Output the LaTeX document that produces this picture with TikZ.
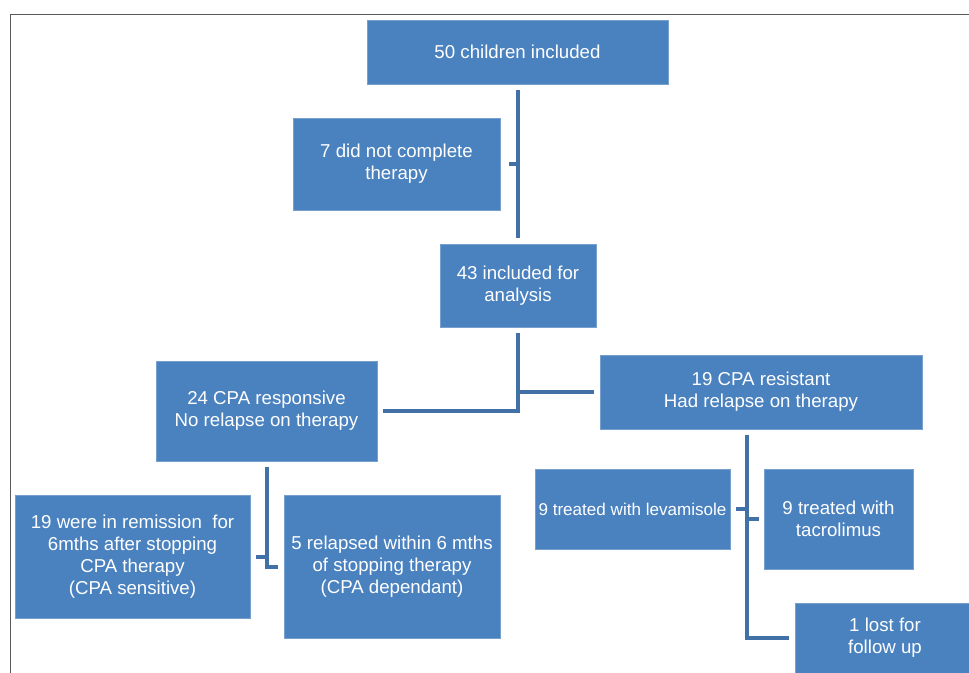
\documentclass[tikz,border=0pt]{standalone}
\usepackage{fontspec}
\setmainfont{Liberation Sans}
\usetikzlibrary{positioning}
\definecolor{boxblue}{RGB}{74,129,191}
\definecolor{lineblue}{RGB}{66,113,168}
\definecolor{framegray}{RGB}{90,90,90}

\begin{document}
\begin{tikzpicture}[x=0.75pt,y=-0.75pt,
  flowbox/.style={fill=boxblue, draw=boxblue!75!white, line width=0.5pt,
    text=white, align=center, inner sep=0pt,
    font=\fontsize{14}{16.5}\selectfont},
  link/.style={draw=lineblue, line width=3pt}]
\useasboundingbox (0,0) rectangle (969,673);
% frame
\draw[framegray, line width=0.75pt] (10,673) -- (10,15) -- (969,15);

\node[flowbox, minimum width=225.75pt, minimum height=48pt] (top) at (517.5,52) {50 children included};
\node[flowbox, minimum width=155.25pt, minimum height=69pt] (skip) at (396.5,164) {7 did not complete\\therapy};
\node[flowbox, minimum width=117pt, minimum height=62.25pt] (incl) at (518,285.5) {43 included for\\analysis};
\node[flowbox, minimum width=165.75pt, minimum height=75pt] (resp) at (266.5,411) {24 CPA responsive\\No relapse on therapy};
\node[flowbox, minimum width=241.5pt, minimum height=55.5pt] (resist) at (761,392) {19 CPA resistant\\Had relapse on therapy};
\node[flowbox, minimum width=176.25pt, minimum height=92.25pt] (sens) at (132.5,556.5) {19 were in remission\ \ for\\6mths after stopping\\CPA therapy\\(CPA sensitive)};
\node[flowbox, minimum width=162pt, minimum height=107.25pt] (dep) at (392,566.5) {5 relapsed within 6 mths\\of stopping therapy\\(CPA dependant)};
\node[flowbox, minimum width=146.25pt, minimum height=60pt, font=\fontsize{12.8}{15}\selectfont] (leva) at (632.5,509) {9 treated with levamisole};
\node[flowbox, minimum width=111.75pt, minimum height=75pt] (tacro) at (838.5,519) {9 treated with\\tacrolimus};
\node[flowbox, minimum width=135pt, minimum height=52.5pt] (lost) at (885,638) {1 lost for\\follow up};

% connectors
\draw[link] ([yshift=-4.5pt]top.south) -- ([yshift=4.5pt]top.south |- incl.north);
\draw[link] (top.south |- skip.east) -- ++(-9,0);
\draw[link] ([yshift=-4.5pt]incl.south) |- ([xshift=4.5pt]resp.east);
\draw[link] (incl.south |- resist.west) -- ([xshift=-4.5pt]resist.west);
\draw[link] ([yshift=-4.5pt]resp.south) |- ([xshift=-4.5pt]dep.west);
\draw[link] (resp.south |- sens.east) -- ++(-11,0);
\coordinate (rtrunk) at ([xshift=-10.5pt,yshift=-4.5pt]resist.south);
\draw[link] (rtrunk) |- ([xshift=-4.5pt]lost.west);
\draw[link] (rtrunk |- leva.east) -- ++(-11,0);
\draw[link] (rtrunk |- tacro.west) -- ++(12,0);
\end{tikzpicture}
\end{document}
